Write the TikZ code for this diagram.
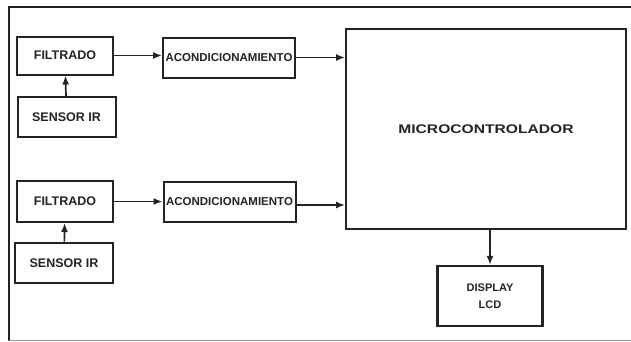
\documentclass[tikz,border=0pt]{standalone}
\usepackage{fontspec}
\setmainfont{Liberation Sans}
\usetikzlibrary{arrows.meta,positioning}
\definecolor{InkGray}{RGB}{35,35,35}
\definecolor{EdgeGray}{RGB}{150,150,150}

\begin{document}
\begin{tikzpicture}[
    x=1pt, y=-1pt,
    every node/.style={draw=InkGray, line width=2pt, text=InkGray, inner sep=0pt, align=center,
                       font=\bfseries\fontsize{12.5}{15}\selectfont},
    blkfilt/.style={minimum width=96pt, minimum height=38pt},
    blksens/.style={minimum width=98pt, minimum height=40pt},
    blkacond/.style={minimum width=132pt, minimum height=40pt, font=\bfseries\fontsize{11.5}{13}\selectfont},
    link/.style={draw=InkGray, line width=1.7pt, -{Latex[length=9pt,width=7pt]}}
]
    \useasboundingbox (0,0) rectangle (631,341);
    % frame
    \draw[InkGray, line width=2pt] (631,7) -- (9,7) -- (9,341);
    \draw[EdgeGray, line width=1pt] (9,340) -- (631,340);

    % upper chain
    \node[blkfilt] (filtA) at (65,55.5) {FILTRADO};
    \node[blksens] (sensA) at (66.5,117) {SENSOR IR};
    \node[blkacond] (acondA) at (229,57.5) {ACONDICIONAMIENTO};

    % lower chain
    \node[blkfilt, minimum height=41pt] (filtB) at (65,201.5) {FILTRADO};
    \node[blksens, line width=2.8pt] (sensB) at (64,263) {SENSOR IR};
    \node[blkacond] (acondB) at (229.5,202) {ACONDICIONAMIENTO};

    \node[minimum width=280pt, minimum height=200pt, line width=1.8pt] (micro) at (486,129)
        {\scalebox{1.25}[1]{MICROCONTROLADOR}};
    \node[minimum width=105pt, minimum height=60pt, line width=2.4pt,
          font=\bfseries\fontsize{11}{17}\selectfont] (lcd) at (490,296) {DISPLAY\\LCD};

    \draw[link] (sensA) -- (filtA);
    \draw[link] (filtA) -- (acondA.west |- filtA.east);
    \draw[link] (acondA) -- (acondA.east -| micro.west);
    \draw[link] (sensB) -- (filtB);
    \draw[link] (filtB) -- (acondB.west |- filtB.east);
    \draw[link] ([yshift=-3pt]acondB.east) -- ([yshift=-3pt]acondB.east -| micro.west);
    \draw[link] (micro.south -| lcd.north) -- (lcd.north);
\end{tikzpicture}
\end{document}
